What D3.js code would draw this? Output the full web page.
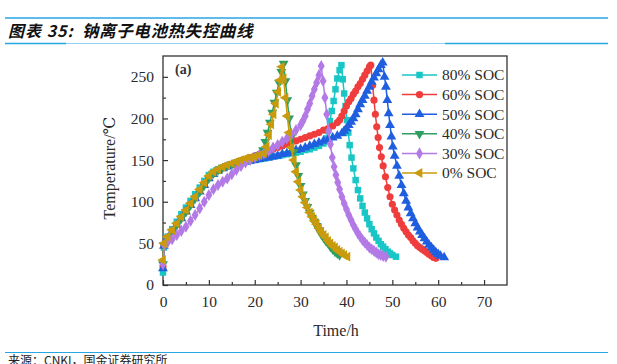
<!DOCTYPE html>
<html>
<head>
<meta charset="utf-8">
<script src="https://cdn.jsdelivr.net/npm/d3@7"></script>
<style>
  body { margin: 0; background: #fff; }
  svg { display: block; }
</style>
</head>
<body>
<div class="container"></div>
<script>
const chartLabel = "图表 35:";
const chartTitle = "钠离子电池热失控曲线";
const sourceText = "来源：CNKI，国金证券研究所";
const seriesNames = ["80% SOC", "60% SOC", "50% SOC", "40% SOC", "30% SOC", "0% SOC"];
const xTicks = [0, 10, 20, 30, 40, 50, 60, 70];
const yTicks = [0, 50, 100, 150, 200, 250];

// [time h, temperature C]
const soc80 = [[0,15],[0.2,45],[1,58],[2,67],[3,76],[4,85],[5,93],[6,101],[7,109],[8,117],[9,125],[10,132],[11,136],[12,139],[13,141],[14,143],[15,144],[16,146],[17,147],[18,148],[19,149],[20,150],[21,151],[22,152],[23,153],[24,154],[25,155],[26,156],[27,157],[28,158],[29,159],[30,160],[31,162],[32,163],[33,165],[34,167],[35,170],[35.6,176],[36,185],[36.4,197],[36.8,209],[37.2,221],[37.6,235],[38,248],[38.5,258],[38.9,264],[39.2,247],[39.5,230],[39.8,215],[40.1,198],[40.4,183],[40.7,168],[41.1,153],[41.5,140],[42,126],[42.5,114],[43,104],[43.5,95],[44,87],[44.5,80],[45,73],[45.5,67],[46,62],[46.5,57],[47,53],[47.5,49],[48,46],[48.5,43],[49,40],[49.5,38],[50,36],[50.8,34]];
const soc60 = [[0,22],[0.2,48],[1,57],[2,65],[3,73],[4,81],[5,89],[6,97],[7,105],[8,113],[9,121],[10,129],[11,134],[12,138],[13,141],[14,143],[15,145],[16,147],[17,149],[18,151],[19,153],[20,155],[21,157],[22,159],[23,161],[24,163],[25,165],[26,167],[27,169],[28,171],[29,173],[30,175],[31,177],[32,179],[33,181],[34,183],[35,186],[36,188],[37,191],[38,195],[38.5,198],[39,203],[39.5,209],[40,215],[40.5,220],[41,224],[41.5,229],[42,233],[42.5,238],[43,242],[43.5,247],[44,252],[44.5,257],[45,262],[45.3,264],[45.7,240],[46,222],[46.3,205],[46.6,190],[46.9,177],[47.2,165],[47.6,154],[48,143],[48.5,130],[49,117],[49.5,106],[50,97],[50.5,90],[51,84],[51.5,78],[52,73],[52.5,68],[53,64],[53.5,60],[54,57],[54.5,53],[55,50],[55.5,47],[56,45],[56.5,43],[57,41],[57.5,39],[58,37],[58.5,35],[59,33],[59.5,32]];
const soc50 = [[0,20],[0.2,47],[1,56],[2,64],[3,72],[4,80],[5,88],[6,96],[7,104],[8,112],[9,120],[10,128],[11,133],[12,137],[13,140],[14,142],[15,144],[16,146],[17,147],[18,148],[19,149],[20,150],[21,151],[22,152],[23,153],[24,154],[25,155],[26,157],[27,158],[28,160],[29,162],[30,163],[31,165],[32,167],[33,169],[34,171],[35,173],[36,175],[37,177],[38,179],[39,182],[39.5,185],[40,188],[40.5,192],[41,196],[41.5,200],[42,205],[42.5,211],[43,217],[43.5,222],[44,227],[44.5,233],[45,238],[45.5,244],[46,249],[46.5,254],[47,259],[47.5,264],[47.9,267],[48.3,250],[48.6,238],[48.9,222],[49.2,206],[49.5,192],[49.8,178],[50.1,166],[50.5,155],[51,143],[51.5,131],[52,120],[52.5,110],[53,101],[53.5,93],[54,86],[54.5,80],[55,74],[55.5,69],[56,64],[56.5,60],[57,56],[57.5,52],[58,48],[58.5,45],[59,42],[59.5,39],[60,37],[60.5,35],[61.3,33]];
const soc40 = [[0,25],[0.2,48],[1,56],[2,64],[3,72],[4,80],[5,88],[6,96],[7,104],[8,112],[9,120],[10,128],[11,134],[12,138],[13,141],[14,143],[15,145],[16,147],[17,149],[18,151],[19,152],[20,154],[21,156],[21.8,162],[22.3,172],[22.8,183],[23.3,195],[23.8,207],[24.3,219],[24.8,231],[25.3,243],[25.8,256],[26.3,266],[26.7,245],[27.1,222],[27.5,200],[28,178],[28.5,160],[29,144],[29.5,131],[30,119],[30.5,109],[31,101],[31.5,94],[32,87],[32.5,81],[33,76],[33.5,71],[34,66],[34.5,61],[35,57],[35.5,53],[36,50],[36.5,46],[37,43],[37.5,40],[38,38],[38.5,36]];
const soc30 = [[0,25],[0.3,48],[1,51],[2,55],[3,60],[4,65],[5,70],[6,77],[7,84],[8,92],[9,100],[10,108],[11,115],[12,120],[13,124],[14,128],[15,133],[16,138],[17,143],[18,147],[19,150],[20,153],[21,156],[22,158],[23,161],[24,165],[25,168],[26,172],[27,176],[28,181],[29,186],[30,192],[30.5,197],[31,203],[31.5,211],[32,218],[32.5,227],[33,235],[33.5,243],[34,252],[34.5,263],[34.9,245],[35.3,225],[35.7,205],[36.1,185],[36.5,169],[36.9,153],[37.3,142],[37.7,132],[38.1,123],[38.5,115],[39,106],[39.5,98],[40,91],[40.5,84],[41,78],[41.5,72],[42,67],[42.5,62],[43,58],[43.5,54],[44,51],[44.5,48],[45,45],[45.5,43],[46,41],[46.5,39],[47,37],[47.5,36],[48,35],[48.6,34]];
const soc0 = [[0,30],[0.2,50],[1,58],[2,66],[3,74],[4,82],[5,90],[6,98],[7,106],[8,115],[9,123],[10,131],[11,136],[12,139],[13,142],[14,144],[15,146],[16,148],[17,150],[18,152],[19,153],[20,154],[21,156],[22,158],[22.6,166],[23.1,180],[23.6,193],[24.1,205],[24.6,218],[25.1,232],[25.5,246],[25.9,262],[26.3,248],[26.7,225],[27.1,203],[27.5,183],[28,165],[28.5,150],[29,136],[29.5,124],[30,114],[30.5,106],[31,99],[31.5,93],[32,87],[32.5,82],[33,77],[33.5,73],[34,68],[34.5,64],[35,60],[35.5,57],[36,53],[36.5,50],[37,47],[37.5,45],[38,42],[38.5,40],[39,38],[39.5,36],[40.2,34]];

const seriesData = [soc80, soc60, soc50, soc40, soc30, soc0];
const colors = ["#19c6c6", "#ef3d3d", "#1f5fdf", "#2f9e62", "#b37ae6", "#c99b0c"];
const symbols = [
  d3.symbolSquare,
  d3.symbolCircle,
  d3.symbolTriangle,
  "down",
  d3.symbolDiamond,
  "left",
];

const width = 617;
const height = 364;
const margin = { top: 56, right: 110, bottom: 79, left: 163 };
const innerWidth = width - margin.left - margin.right;
const innerHeight = height - margin.top - margin.bottom;
const serif = "'Liberation Serif', 'DejaVu Serif', serif";
const cjk = "'Noto Sans CJK SC', sans-serif";

const svg = d3
  .select(".container")
  .append("svg")
  .attr("width", width)
  .attr("height", height);

// header / footer rules
svg.append("line").attr("x1", 5).attr("x2", 608).attr("y1", 18).attr("y2", 18)
  .attr("stroke", "#27a6e2").attr("stroke-width", 1.5);
svg.append("line").attr("x1", 5).attr("x2", 608).attr("y1", 43.5).attr("y2", 43.5)
  .attr("stroke", "#93d3f2").attr("stroke-width", 1);
svg.append("line").attr("x1", 5).attr("x2", 66).attr("y1", 43.5).attr("y2", 43.5)
  .attr("stroke", "#27a6e2").attr("stroke-width", 1.5);
svg.append("line").attr("x1", 445).attr("x2", 608).attr("y1", 43.5).attr("y2", 43.5)
  .attr("stroke", "#27a6e2").attr("stroke-width", 1.5);
svg.append("line").attr("x1", 5).attr("x2", 608).attr("y1", 352.5).attr("y2", 352.5)
  .attr("stroke", "#27a6e2").attr("stroke-width", 1.2);

const title = svg.append("text")
  .attr("x", 8)
  .attr("y", 37)
  .attr("font-family", cjk)
  .attr("font-size", 16)
  .attr("font-weight", "bold")
  .attr("font-style", "italic")
  .attr("fill", "#111");
title.append("tspan").attr("letter-spacing", 1).text(chartLabel);
title.append("tspan").attr("x", 82).attr("letter-spacing", 0.6).attr("font-size", 16.5).text(chartTitle);

svg.append("text")
  .attr("x", 8)
  .attr("y", 365)
  .attr("font-family", cjk)
  .attr("font-size", 12)
  .attr("fill", "#222")
  .text(sourceText);

const g = svg.append("g").attr("transform", `translate(${margin.left},${margin.top})`);

const xScale = d3.scaleLinear().domain([0, 75]).range([0, innerWidth]);
const yScale = d3.scaleLinear().domain([0, 275]).range([innerHeight, 0]);

// minor ticks
const xAxisMinor = d3.axisBottom(xScale).tickValues(d3.range(5, 75, 10)).tickSize(-3).tickFormat("");
const yAxisMinor = d3.axisLeft(yScale).tickValues(d3.range(25, 275, 50)).tickSize(-3).tickFormat("");
g.append("g").attr("transform", `translate(0,${innerHeight})`).call(xAxisMinor);
g.append("g").call(yAxisMinor);

const xAxis = d3.axisBottom(xScale).tickValues(xTicks).tickSize(-5).tickPadding(10);
const yAxis = d3.axisLeft(yScale).tickValues(yTicks).tickSize(-5).tickPadding(9);
const xg = g.append("g").attr("transform", `translate(0,${innerHeight})`).call(xAxis);
const yg = g.append("g").call(yAxis);

g.selectAll(".domain").remove();
g.selectAll(".tick line").attr("stroke", "#333").attr("stroke-width", 1.2);
[xg, yg].forEach((a) =>
  a.selectAll("text")
    .attr("font-family", serif)
    .attr("font-size", 15.5)
    .attr("fill", "#2a2a2a")
);
xg.selectAll("text").attr("dy", "0.75em");

// frame
g.append("rect")
  .attr("width", innerWidth)
  .attr("height", innerHeight)
  .attr("fill", "none")
  .attr("stroke", "#333")
  .attr("stroke-width", 1.3);

g.append("text")
  .attr("x", 12)
  .attr("y", 18)
  .attr("font-family", serif)
  .attr("font-size", 14)
  .attr("font-weight", "bold")
  .attr("fill", "#333")
  .text("(a)");

svg.append("text")
  .attr("transform", "translate(115,168) rotate(-90)")
  .attr("text-anchor", "middle")
  .attr("font-family", serif)
  .attr("font-size", 16)
  .attr("fill", "#2a2a2a")
  .text("Temperature/℃");

svg.append("text")
  .attr("x", 336)
  .attr("y", 336)
  .attr("text-anchor", "middle")
  .attr("font-family", serif)
  .attr("font-size", 16)
  .attr("fill", "#2a2a2a")
  .text("Time/h");

const symbolPath = (s, size) => {
  if (s === "down") return { d: d3.symbol(d3.symbolTriangle, size)(), rot: 180 };
  if (s === "left") return { d: d3.symbol(d3.symbolTriangle, size)(), rot: -90 };
  return { d: d3.symbol(s, size)(), rot: 0 };
};

const line = d3
  .line()
  .x((d) => xScale(d[0]))
  .y((d) => yScale(d[1]));

const plot = g.append("g");
seriesData.forEach((data, i) => {
  const sg = plot.append("g");
  sg.append("path")
    .datum(data)
    .attr("d", line)
    .attr("fill", "none")
    .attr("stroke", colors[i])
    .attr("stroke-width", 1.5);
  const sym = symbolPath(symbols[i], i === 1 ? 40 : 42);
  sg.selectAll("path.pt")
    .data(data)
    .enter()
    .append("path")
    .attr("class", "pt")
    .attr("d", sym.d)
    .attr("transform", (d) => `translate(${xScale(d[0])},${yScale(d[1])}) rotate(${sym.rot})`)
    .attr("fill", colors[i]);
});

// legend
const legend = svg.append("g").attr("transform", "translate(402,75)");
seriesNames.forEach((name, i) => {
  const row = legend.append("g").attr("transform", `translate(0,${i * 19.6})`);
  row.append("line").attr("x1", 0).attr("x2", 35)
    .attr("stroke", colors[i]).attr("stroke-width", 1.5);
  const sym = symbolPath(symbols[i], 42);
  row.append("path")
    .attr("d", sym.d)
    .attr("transform", `translate(17.5,0) rotate(${sym.rot})`)
    .attr("fill", colors[i]);
  row.append("text")
    .attr("x", 40)
    .attr("dy", "0.35em")
    .attr("font-family", serif)
    .attr("font-size", 15.5)
    .attr("fill", "#2a2a2a")
    .text(name);
});
</script>
</body>
</html>
